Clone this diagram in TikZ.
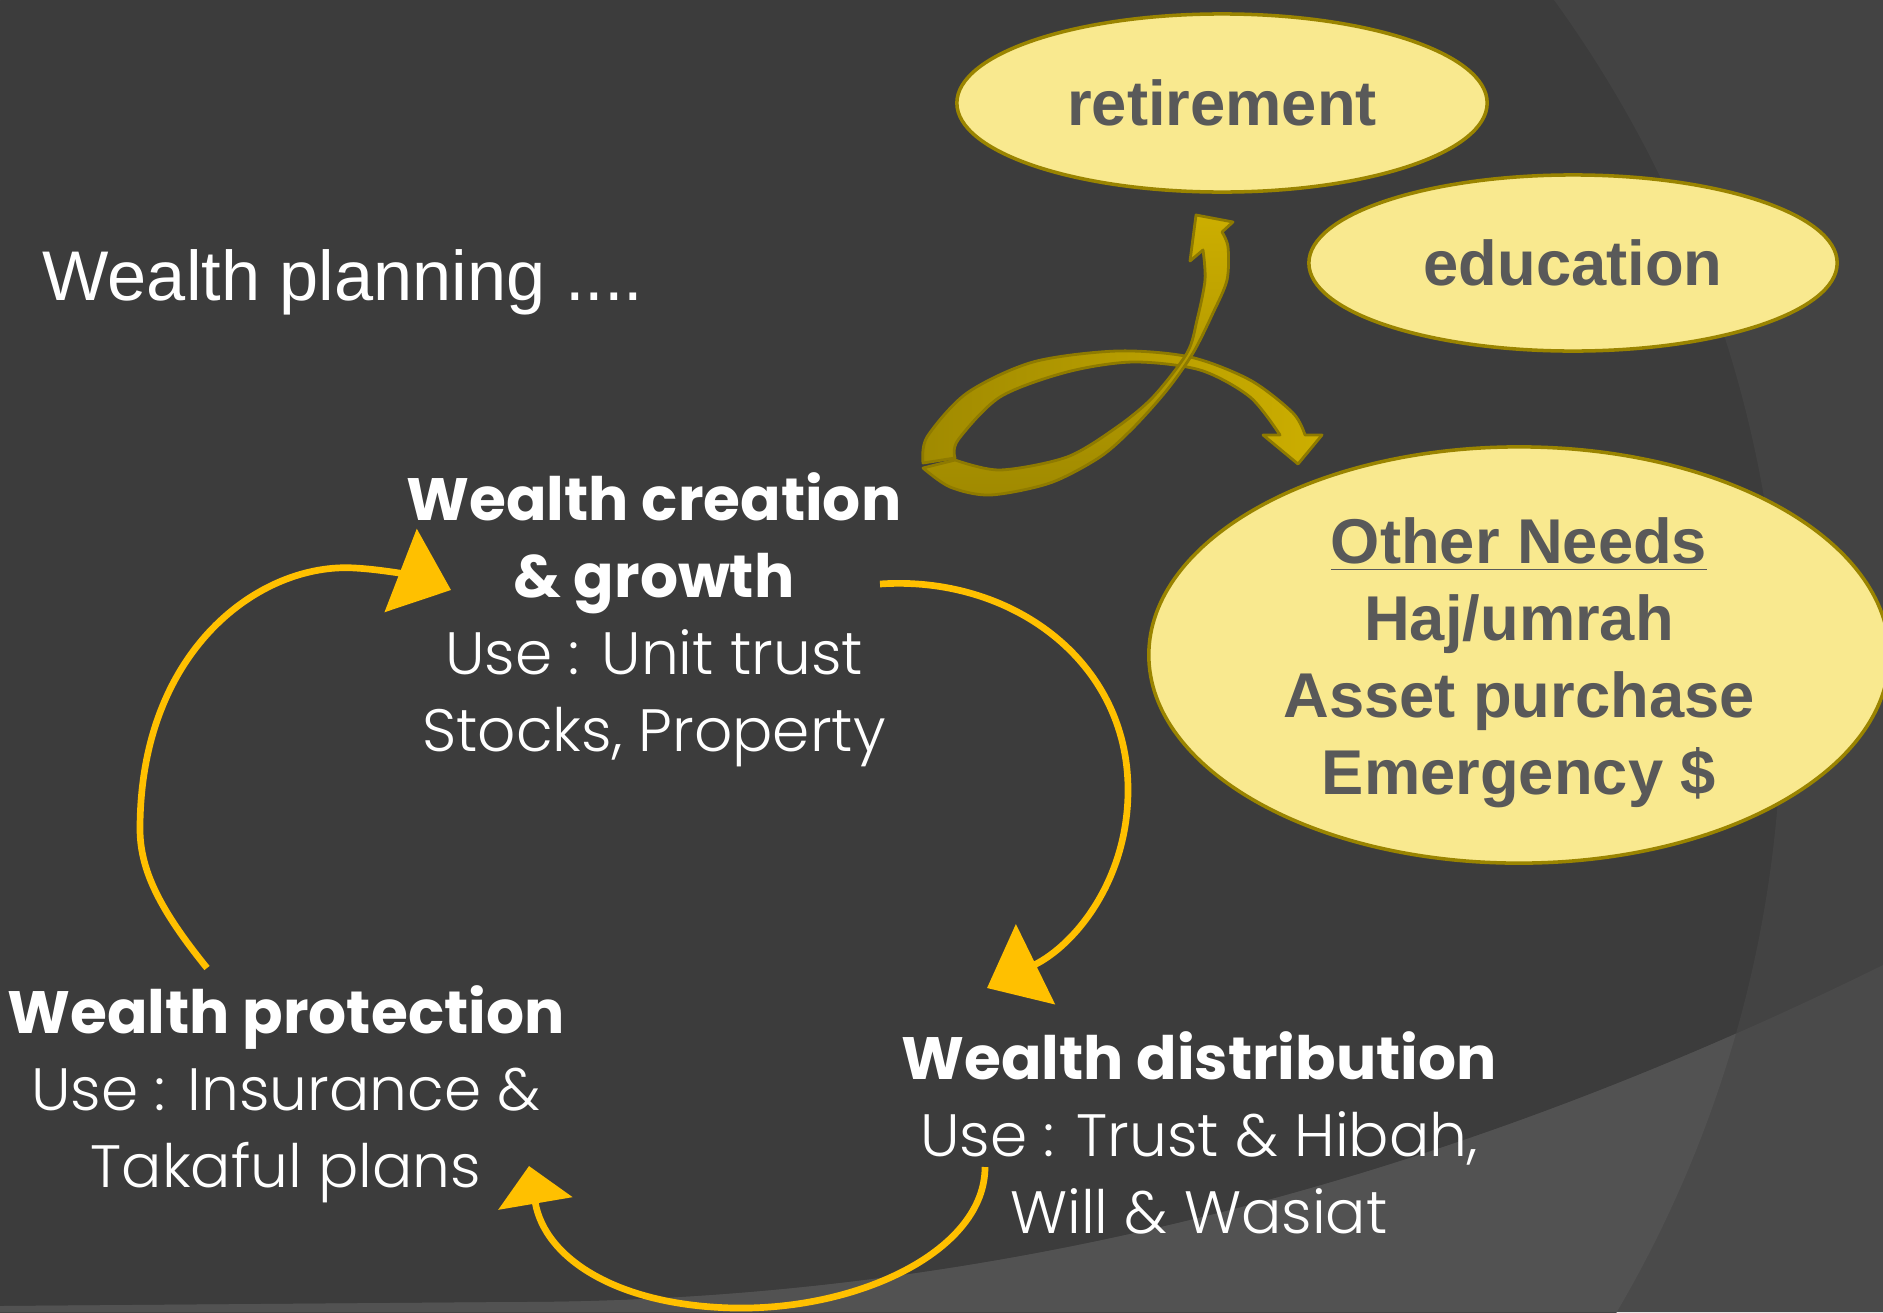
\documentclass[tikz,border=0pt]{standalone}
\usepackage{fontspec}
\setmainfont{Liberation Sans}
\newfontfamily\gothic{Poppins}
\newfontfamily\gothiclight{Poppins Light}
\usetikzlibrary{positioning,shapes.geometric,arrows.meta}

\definecolor{bgdark}{HTML}{3C3C3C}
\definecolor{bgright}{HTML}{434343}
\definecolor{bandin}{HTML}{525252}
\definecolor{bandout}{HTML}{4A4A4A}
\definecolor{cycgold}{HTML}{FFC000}
\definecolor{ribdark}{HTML}{A08A00}
\definecolor{riblight}{HTML}{CCAE00}
\definecolor{ribedge}{HTML}{8E7A00}
\definecolor{bubblefill}{HTML}{F9E98F}
\definecolor{bubbleedge}{HTML}{9A8400}
\definecolor{bubbletext}{HTML}{595959}

\newcommand{\headln}[1]{{\gothic\bfseries #1}}

\begin{document}
\begin{tikzpicture}[x=0.01cm, y=-0.01cm,
    bubble/.style={ellipse, draw=bubbleedge, line width=1pt, fill=bubblefill, inner sep=0pt,
      text=bubbletext, font=\bfseries\fontsize{18}{21.9}\selectfont},
    needtext/.style={text=bubbletext, font=\bfseries\fontsize{18}{21.9}\selectfont, align=center, inner sep=0pt},
    stage/.style={text=white, font=\gothiclight\fontsize{17}{21.9}\selectfont, align=center, inner sep=0pt},
    cyc/.style={draw=cycgold, line width=1.9pt, -{Triangle[length=0.54cm, width=0.88cm]}},
    ribbon/.style={draw=ribedge, line width=0.8pt, line join=round}]
    \useasboundingbox (0,0) rectangle (1883,1312);
    % background
    \fill[bgdark] (0,0) rectangle (1883,1312);
    \begin{scope}
        \clip (0,0) rectangle (1883,1312);
        \fill[bgright, even odd rule] (0,0) rectangle (1883,1312) (580,704) circle[radius=12.01cm];
    \end{scope}
    \begin{scope}
        \clip (0,1306) -- (515,1302) .. controls (971,1302) and (1427,1190) .. (1883,965) -- (1883,1312) -- (0,1312) -- cycle;
        \fill[bandout] (0,0) rectangle (1883,1312);
        \fill[bandin] (580,704) circle[radius=12.01cm];
    \end{scope}

    \node[text=white, font=\fontsize{20}{24}\selectfont, anchor=base west, inner sep=0pt] (title) at (42,300) {Wealth planning ....};

    % needs
    \node[bubble, minimum width=5.3cm, minimum height=1.78cm] (ret) at (1222,103) {retirement};
    \node[bubble, minimum width=5.28cm, minimum height=1.76cm] (edu) at (1573,263) {education};
    \node[bubble, minimum width=7.4cm, minimum height=4.16cm] (oth) at (1519,655) {};
    \node[needtext] (othtxt) at (1519,663) {\underline{Other Needs}\\Haj/umrah\\Asset purchase\\Emergency \$};

    % twisted ribbon arrows
    \shadedraw[ribbon, left color=ribdark, right color=riblight]
        plot[smooth] coordinates {(923,463) (927,437) (967,393) (1033,362) (1117,351) (1190,357) (1250,380) (1293,413) (1305,435)}
        -- (1322,435) -- (1298,464) -- (1263,435) --
        plot[smooth] coordinates {(1280,435) (1250,397) (1200,370) (1133,362) (1067,372) (1000,397) (958,440) (955,458)} -- cycle;
    \shadedraw[ribbon, top color=riblight, bottom color=ribdark]
        plot[smooth] coordinates {(923,468) (950,487) (990,495) (1050,483) (1100,457) (1133,428) (1167,390) (1193,353) (1213,313) (1227,280) (1228,247) (1222,232)}
        -- (1233,222) -- (1196,215) -- (1190,261) --
        plot[smooth] coordinates {(1203,250) (1205,280) (1197,320) (1187,353) (1153,397) (1117,427) (1067,457) (1000,470) (955,460)} -- cycle;

    % the three stages
    \node[stage] (crea) at (654,620) {\headln{Wealth creation}\\\headln{\& growth}\\Use : Unit trust\\Stocks, Property};
    \node[stage] (prot) at (286,1094) {\headln{Wealth protection}\\Use : Insurance \&\\Takaful plans};
    \node[stage] (dist) at (1199,1133) {\headln{Wealth distribution}\\Use : Trust \& Hibah,\\Will \& Wasiat};

    % cycle
    \coordinate (prot-out) at (207,968);
    \coordinate (crea-in) at (451,590);
    \coordinate (crea-out) at (880,584);
    \coordinate (dist-in) at (987,988);
    \coordinate (dist-out) at (985,1167);
    \coordinate (prot-in) at (529,1166);
    \draw[cyc] (prot-out) .. controls (160,910) and (140,870) .. (140,829)
        .. controls (140,650) and (260,562) .. (355,568) .. controls (390,570) and (420,578) .. (crea-in);
    \draw[cyc] (crea-out) .. controls (1010,575) and (1128,660) .. (1128,790)
        .. controls (1128,880) and (1075,945) .. (dist-in);
    \draw[cyc, -{Triangle[length=0.38cm, width=0.74cm]}] (dist-out) .. controls (985,1250) and (860,1310) .. (735,1308)
        .. controls (620,1306) and (545,1260) .. (prot-in);
\end{tikzpicture}
\end{document}
